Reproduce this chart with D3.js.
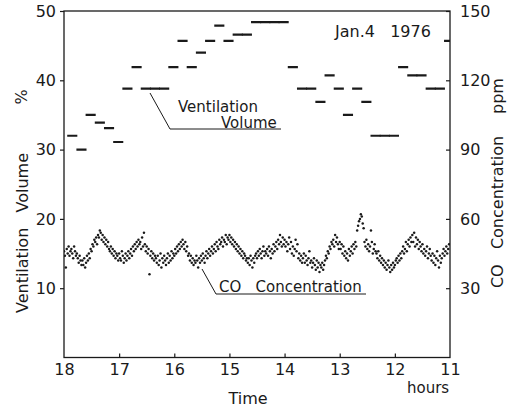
<!DOCTYPE html>
<html>
<head>
<meta charset="utf-8">
<script src="https://cdn.jsdelivr.net/npm/d3@7"></script>
<style>
  body { margin: 0; background: #fff; }
  svg { display: block; }
  text { font-family: 'DejaVu Sans', 'Liberation Sans', sans-serif; fill: #1a1a1a; }
</style>
</head>
<body>
<div id="graf"></div>
<script>
// ---- data ----
const hourTicks = [18, 17, 16, 15, 14, 13, 12, 11]
const pctTicks = [10, 20, 30, 40, 50]
const ppmTicks = [30, 60, 90, 120, 150]

// ventilation volume (%), one reading every 10 min starting 18h
const ventStepMin = 10
const ventFirstMin = 9
const ventValues = [32, 30, 35, 33.9, 33.1, 31.1, 38.8, 41.9, 38.8, 38.8,
  38.8, 41.9, 45.7, 41.9, 44, 45.7, 47.9, 45.7, 46.6, 46.6,
  48.4, 48.4, 48.4, 48.4, 41.9, 38.8, 38.8, 36.9, 40.7, 38.8,
  35, 38.8, 36.9, 32, 32, 32, 41.9, 40.7, 40.7, 38.8,
  38.8, 45.7]

// CO concentration (ppm), one reading per minute starting 18h
const coValues = [
  46, 44, 39, 47, 45, 48, 44, 46, 47, 45, 43, 48, 46, 44, 45, 43, 41, 44, 42, 40,
  42, 40, 43, 39, 41, 44, 42, 45, 43, 47, 46, 49, 48, 51, 50, 52, 49, 53, 52, 55,
  54, 51, 53, 50, 52, 49, 51, 48, 50, 47, 46, 48, 45, 47, 44, 46, 43, 45, 44, 42,
  45, 43, 42, 46, 44, 41, 43, 45, 42, 44, 46, 43, 45, 47, 44, 48, 46, 49, 47, 50,
  48, 51, 49, 50, 47, 52, 48, 54, 49, 46, 48, 45, 47, 36, 44, 46, 43, 45, 42, 44,
  43, 41, 44, 40, 42, 45, 39, 43, 41, 44, 42, 40, 43, 45, 41, 44, 42, 46, 43, 45,
  44, 47, 45, 48, 46, 49, 47, 50, 48, 51, 49, 47, 50, 46, 48, 44, 45, 42, 44, 41,
  43, 40, 42, 41, 44, 42, 39, 43, 41, 44, 42, 45, 43, 41, 44, 46, 43, 45, 47, 44,
  46, 48, 45, 47, 49, 46, 50, 48, 47, 51, 49, 50, 52, 48, 51, 50, 53, 49, 52, 51,
  53, 50, 52, 49, 51, 48, 50, 47, 49, 46, 48, 45, 47, 44, 46, 43, 45, 44, 42, 43,
  41, 43, 40, 44, 42, 39, 43, 41, 44, 45, 43, 46, 44, 47, 45, 43, 46, 48, 44, 46,
  45, 47, 44, 48, 46, 43, 47, 45, 49, 46, 48, 50, 47, 51, 49, 53, 50, 48, 52, 49,
  51, 48, 50, 46, 49, 52, 47, 50, 45, 48, 44, 47, 51, 46, 49, 43, 45, 42, 44, 41,
  43, 45, 41, 44, 42, 40, 43, 46, 41, 42, 39, 41, 43, 40, 38, 42, 39, 41, 37, 40,
  39, 41, 38, 40, 42, 44, 43, 46, 45, 48, 47, 50, 49, 51, 48, 53, 50, 52, 49, 47,
  50, 47, 49, 45, 48, 44, 46, 43, 45, 42, 47, 44, 46, 48, 45, 49, 47, 50, 48, 55,
  57, 59, 60, 62, 61, 58, 56, 50, 48, 51, 47, 49, 46, 48, 55, 50, 45, 47, 49, 46,
  45, 43, 46, 42, 44, 41, 43, 40, 42, 39, 41, 38, 40, 42, 39, 37, 40, 38, 41, 39,
  40, 42, 43, 41, 44, 42, 45, 43, 46, 48, 45, 47, 50, 46, 49, 51, 48, 52, 50, 53,
  50, 54, 48, 52, 49, 51, 47, 50, 48, 46, 49, 45, 47, 44, 46, 48, 43, 45, 47, 44,
  42, 45, 41, 44, 40, 43, 46, 42, 39, 44, 41, 43, 45, 47, 44, 46, 48, 45, 47, 49
]

// ---- layout ----
const ancho = 516
const alto = 409
const margin = { top: 11, left: 64, right: 66, bottom: 51.5 }
const ink = '#1a1a1a'

const svg = d3.select('#graf')
  .append('svg')
  .attr('width', ancho)
  .attr('height', alto)

const x = d3.scaleLinear()
  .domain([18, 11])
  .range([margin.left, ancho - margin.right])

const y = d3.scaleLinear()
  .domain([0, 50])
  .range([alto - margin.bottom, margin.top])

const yR = d3.scaleLinear()
  .domain([0, 150])
  .range([alto - margin.bottom, margin.top])

const minToHour = m => 18 - m / 60

svg.append('clipPath').attr('id', 'plot')
  .append('rect')
  .attr('x', x(18)).attr('y', y(50))
  .attr('width', x(11) - x(18)).attr('height', y(0) - y(50))

// ---- axes ----
const fontSize = 16

const xAxis = svg.append('g')
  .attr('transform', `translate(0, ${y(0)})`)
  .call(d3.axisBottom(x).tickValues(hourTicks).tickSize(-4).tickPadding(6).tickFormat(d3.format('d')))
xAxis.select('.domain').remove()

const yAxis = svg.append('g')
  .attr('transform', `translate(${x(18)}, 0)`)
  .call(d3.axisLeft(y).tickValues(pctTicks).tickSize(4).tickPadding(4))
yAxis.select('.domain').remove()

const yAxisR = svg.append('g')
  .attr('transform', `translate(${x(11)}, 0)`)
  .call(d3.axisRight(yR).tickValues(ppmTicks).tickSize(-4).tickPadding(10))
yAxisR.select('.domain').remove()

svg.selectAll('.tick line').attr('stroke', ink).attr('stroke-width', 1.2)
svg.selectAll('.tick text')
  .attr('font-size', fontSize)
  .attr('font-family', "'DejaVu Sans', sans-serif")
  .attr('fill', ink)
// the 18 and 11 ticks sit on the frame corners; hide their marks
xAxis.selectAll('.tick').filter(d => d === 18 || d === 11).select('line').remove()

// frame
svg.append('rect')
  .attr('x', x(18)).attr('y', y(50))
  .attr('width', x(11) - x(18)).attr('height', y(0) - y(50))
  .attr('fill', 'none')
  .attr('stroke', ink)
  .attr('stroke-width', 1.3)

// ---- marks ----
const plot = svg.append('g').attr('clip-path', 'url(#plot)')

plot.selectAll('circle.co')
  .data(coValues)
  .enter()
  .append('circle')
  .attr('class', 'co')
  .attr('cx', (d, i) => x(minToHour(i)))
  .attr('cy', d => yR(d))
  .attr('r', 1.25)
  .attr('fill', ink)

plot.selectAll('line.vent')
  .data(ventValues)
  .enter()
  .append('line')
  .attr('class', 'vent')
  .attr('x1', (d, i) => x(minToHour(ventFirstMin + i * ventStepMin - 5.5)))
  .attr('x2', (d, i) => x(minToHour(ventFirstMin + i * ventStepMin + 5.5)))
  .attr('y1', d => y(d))
  .attr('y2', d => y(d))
  .attr('stroke', ink)
  .attr('stroke-width', 2.2)

// ---- annotations ----
const ann = svg.append('g')
  .attr('stroke', ink)
  .attr('stroke-width', 1)
  .attr('fill', 'none')

ann.append('path').attr('d', 'M150,93 L170,129 L281,129')
ann.append('path').attr('d', 'M202,269 L216,294 L366,294')

const label = (tx, ty, txt, opts = {}) => svg.append('text')
  .attr('x', tx)
  .attr('y', ty)
  .attr('font-size', opts.size || fontSize)
  .attr('text-anchor', opts.anchor || 'start')
  .attr('transform', opts.rotate ? `rotate(-90, ${tx}, ${ty})` : null)
  .style('white-space', 'pre')
  .text(txt)

label(178, 112, 'Ventilation', { size: 15 })
label(221, 128, 'Volume', { size: 15 })
label(219, 292, 'CO   Concentration', { size: 15 })
label(335, 37, 'Jan.4   1976', { size: 16 })

label(248, 404, 'Time', { anchor: 'middle' })
label(407, 393, 'hours', { size: 15 })

label(27, 97, '%', { anchor: 'middle', rotate: true })
label(28, 233, 'Ventilation   Volume', { anchor: 'middle', rotate: true })
label(503, 96, 'ppm', { anchor: 'middle', rotate: true })
label(503, 212, 'CO   Concentration', { anchor: 'middle', rotate: true })
</script>
</body>
</html>
